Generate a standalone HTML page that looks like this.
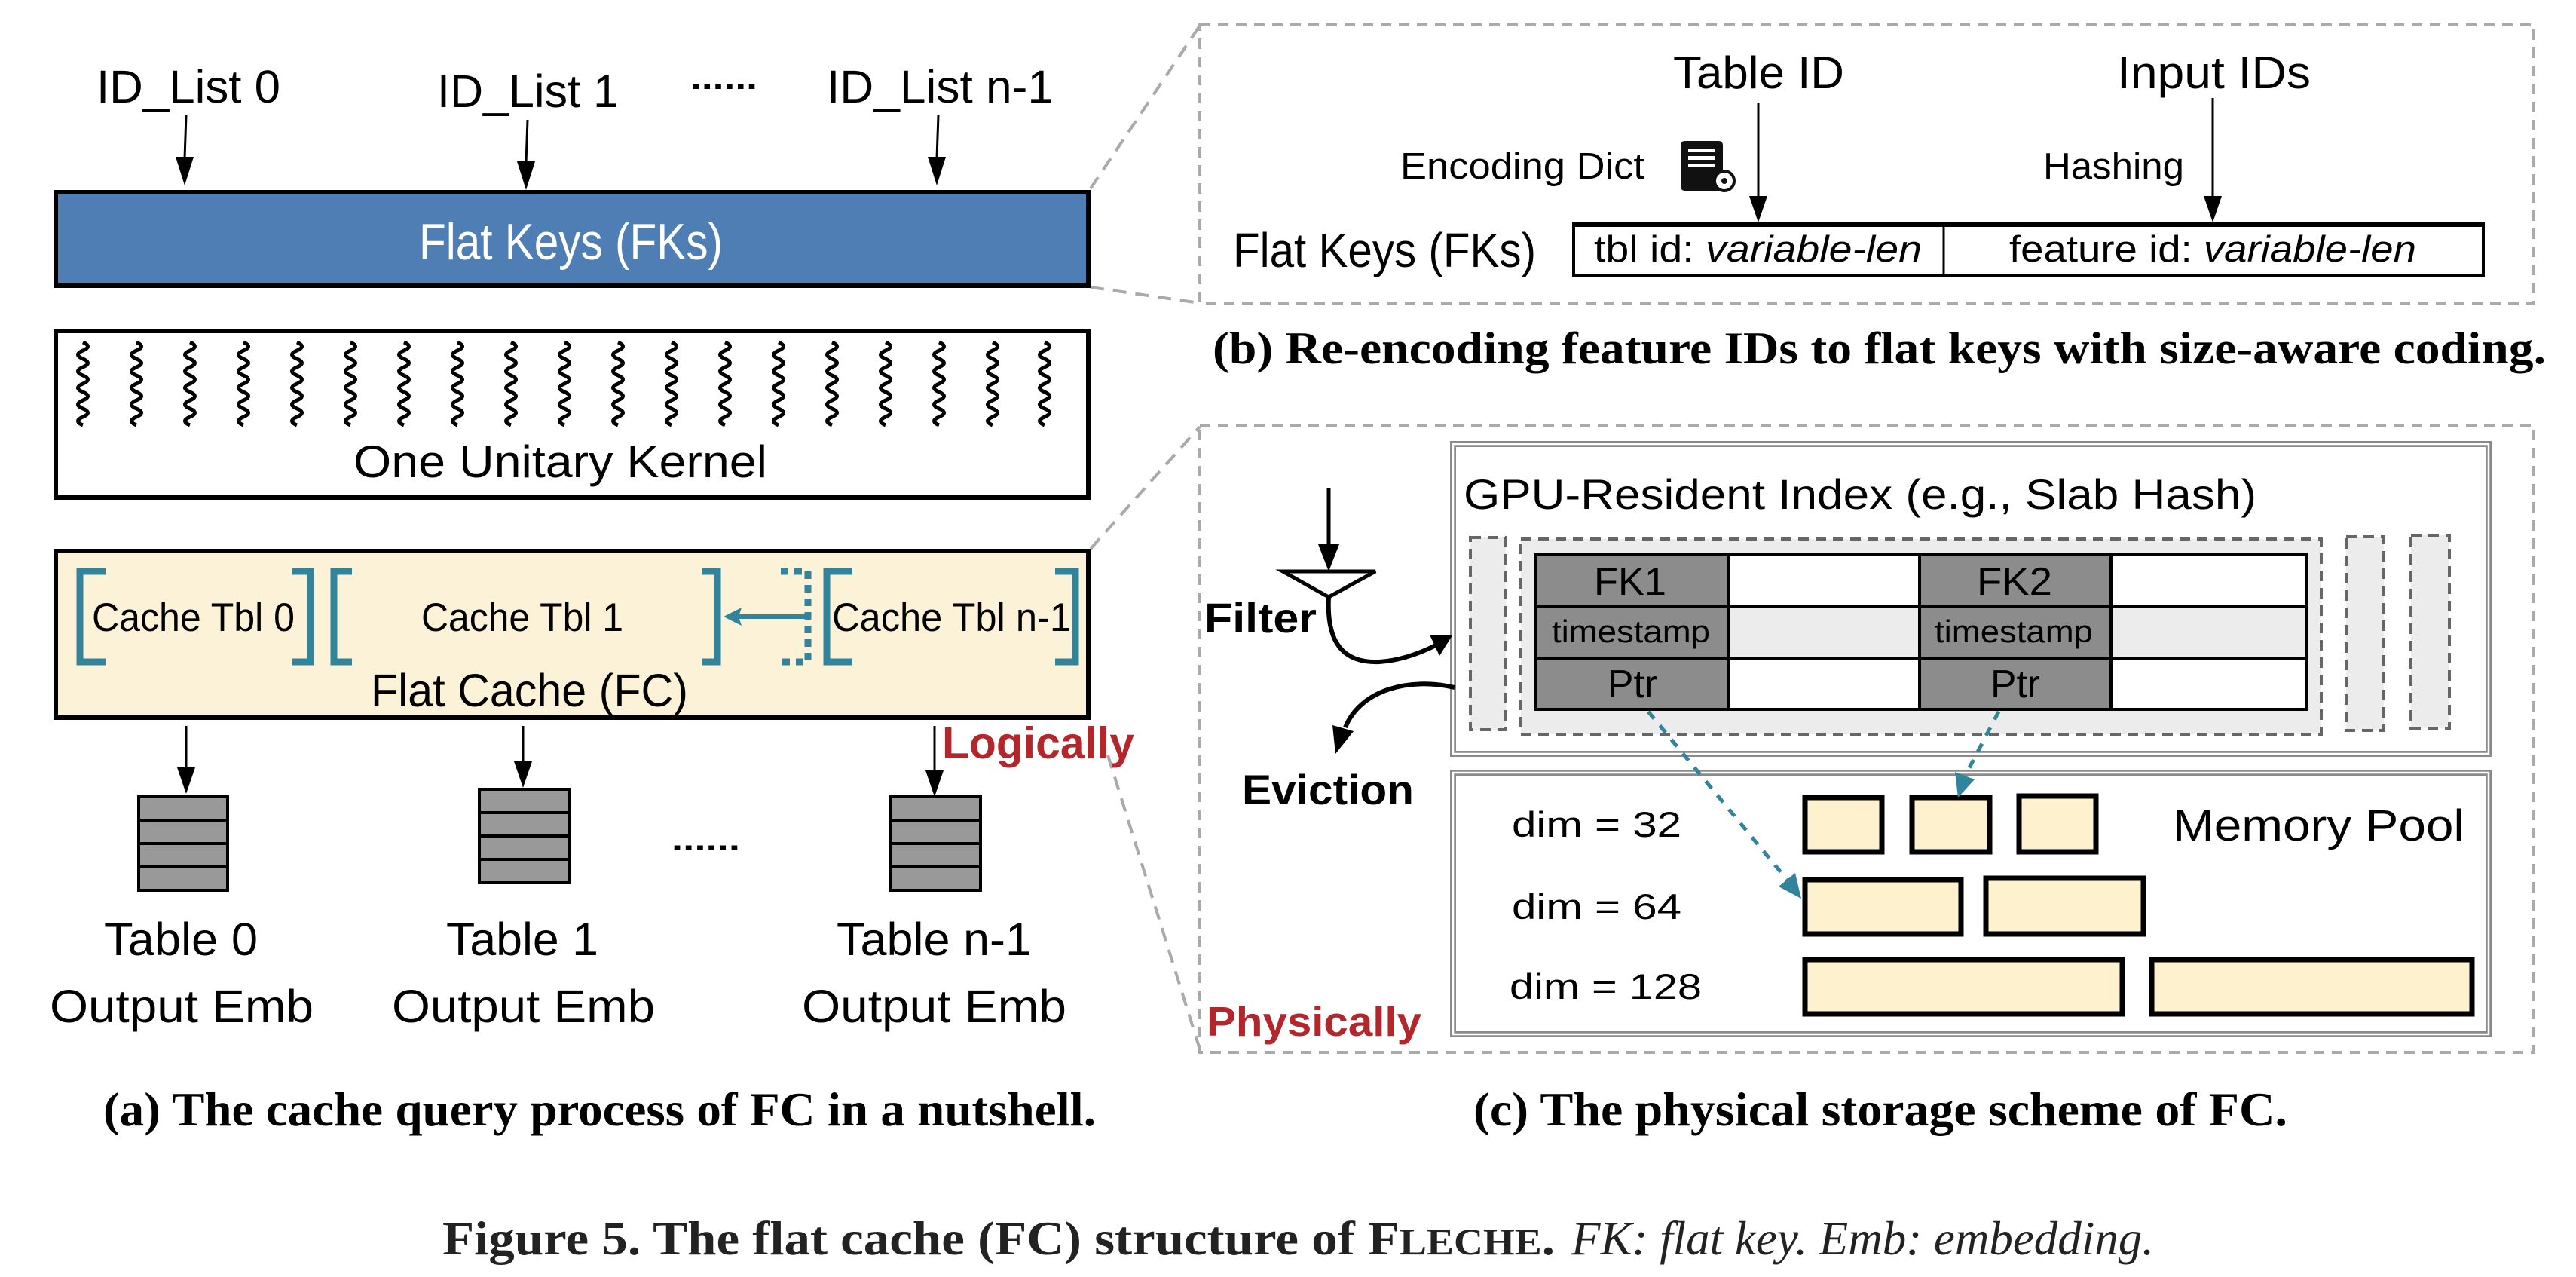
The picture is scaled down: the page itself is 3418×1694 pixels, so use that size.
<!DOCTYPE html>
<html><head><meta charset="utf-8"><style>
html,body{margin:0;padding:0;background:#fff}
svg{display:block}
text{font-family:"Liberation Sans",sans-serif;fill:#000}
.s{font-family:"Liberation Serif",serif;font-weight:bold}
</style></head><body>
<svg width="3418" height="1694" viewBox="0 0 3418 1694" xmlns="http://www.w3.org/2000/svg">

<!-- zoom dashed lines -->
<g stroke="#aaa" stroke-width="4" stroke-dasharray="18,12" fill="none">
<line x1="1447" y1="250" x2="1592" y2="34"/>
<line x1="1447" y1="381" x2="1592" y2="402"/>
<line x1="1447" y1="728" x2="1592" y2="566"/>
<line x1="1470" y1="1002" x2="1592" y2="1392"/>
</g>

<!-- Panel a -->
<text x="128" y="136" font-size="61" textLength="244" lengthAdjust="spacingAndGlyphs">ID_List 0</text>
<text x="580" y="142" font-size="61" textLength="241" lengthAdjust="spacingAndGlyphs">ID_List 1</text>
<text x="916" y="118" font-size="44" font-weight="bold" textLength="89" lengthAdjust="spacingAndGlyphs">......</text>
<text x="1097" y="136" font-size="61" textLength="301" lengthAdjust="spacingAndGlyphs">ID_List n-1</text>
<g stroke="#000" stroke-width="3">
<line x1="247" y1="153" x2="245" y2="210"/>
<line x1="700" y1="159" x2="698" y2="216"/>
<line x1="1245" y1="153" x2="1243" y2="210"/>
</g>
<path d="M233,208 L257,208 L245,246 z M686,214 L710,214 L698,252 z M1231,208 L1255,208 L1243,246 z"/>

<rect x="74" y="255" width="1370" height="124" fill="#4f7eb5" stroke="#000" stroke-width="6"/>
<text x="556" y="344" font-size="68" style="fill:#fff" textLength="403" lengthAdjust="spacingAndGlyphs">Flat Keys (FKs)</text>

<rect x="74" y="439" width="1370" height="221" fill="#fff" stroke="#000" stroke-width="6"/>
<g fill="none" stroke="#000" stroke-width="5">
<path id="sq" d="M110,454 q13,5.5 0,11 q-13,5.5 0,11 q13,5.5 0,11 q-13,5.5 0,11 q13,5.5 0,11 q-13,5.5 0,11 q13,5.5 0,11 q-13,5.5 0,11 q13,5.5 0,11 q-13,5.5 0,11"/>
<use href="#sq" x="71"/><use href="#sq" x="142"/><use href="#sq" x="213"/><use href="#sq" x="284"/><use href="#sq" x="355"/><use href="#sq" x="426"/><use href="#sq" x="497"/><use href="#sq" x="568"/><use href="#sq" x="639"/><use href="#sq" x="710"/><use href="#sq" x="781"/><use href="#sq" x="852"/><use href="#sq" x="923"/><use href="#sq" x="994"/><use href="#sq" x="1065"/><use href="#sq" x="1136"/><use href="#sq" x="1207"/><use href="#sq" x="1276"/>
</g>
<text x="469" y="633" font-size="60" textLength="549" lengthAdjust="spacingAndGlyphs">One Unitary Kernel</text>

<rect x="74" y="731" width="1370" height="221" fill="#fcf2d8" stroke="#000" stroke-width="6"/>
<g fill="none" stroke="#31849b" stroke-width="9">
<path d="M140,758 H106 V878 H140"/>
<path d="M388,758 H412 V878 H388"/>
<path d="M467,758 H443 V878 H467"/>
<path d="M932,758 H952 V878 H932"/>
<path d="M1036,758 H1072 V878 H1036" stroke-dasharray="10,8"/>
<path d="M1131,758 H1097 V878 H1131"/>
<path d="M1400,758 H1427 V878 H1400"/>
</g>
<line x1="1072" y1="818" x2="972" y2="818" stroke="#31849b" stroke-width="6"/>
<path d="M960,818 L984,806 L980,818 L984,830 z" fill="#31849b"/>
<text x="122" y="837" font-size="53" textLength="269" lengthAdjust="spacingAndGlyphs">Cache Tbl 0</text>
<text x="559" y="837" font-size="53" textLength="268" lengthAdjust="spacingAndGlyphs">Cache Tbl 1</text>
<text x="1104" y="837" font-size="53" textLength="317" lengthAdjust="spacingAndGlyphs">Cache Tbl n-1</text>
<text x="492" y="937" font-size="61" textLength="421" lengthAdjust="spacingAndGlyphs">Flat Cache (FC)</text>

<g stroke="#000" stroke-width="3">
<line x1="247" y1="963" x2="247" y2="1020"/>
<line x1="694" y1="963" x2="694" y2="1012"/>
<line x1="1240" y1="963" x2="1240" y2="1024"/>
</g>
<path d="M235,1018 L259,1018 L247,1053 z M682,1010 L706,1010 L694,1045 z M1228,1022 L1252,1022 L1240,1057 z"/>
<g fill="#999" stroke="#000" stroke-width="4">
<rect x="184" y="1057" width="118" height="31"/><rect x="184" y="1088" width="118" height="31"/><rect x="184" y="1119" width="118" height="31"/><rect x="184" y="1150" width="118" height="31"/>
<rect x="636" y="1047" width="120" height="31"/><rect x="636" y="1078" width="120" height="31"/><rect x="636" y="1109" width="120" height="31"/><rect x="636" y="1140" width="120" height="31"/>
<rect x="1182" y="1057" width="119" height="31"/><rect x="1182" y="1088" width="119" height="31"/><rect x="1182" y="1119" width="119" height="31"/><rect x="1182" y="1150" width="119" height="31"/>
</g>
<text x="891" y="1128" font-size="44" font-weight="bold" textLength="91" lengthAdjust="spacingAndGlyphs">......</text>
<text x="1250" y="1006" font-size="59" font-weight="bold" style="fill:#b3262c" textLength="255" lengthAdjust="spacingAndGlyphs">Logically</text>
<text x="138" y="1267" font-size="61" textLength="204" lengthAdjust="spacingAndGlyphs">Table 0</text>
<text x="66" y="1356" font-size="61" textLength="350" lengthAdjust="spacingAndGlyphs">Output Emb</text>
<text x="592" y="1267" font-size="61" textLength="202" lengthAdjust="spacingAndGlyphs">Table 1</text>
<text x="520" y="1356" font-size="61" textLength="349" lengthAdjust="spacingAndGlyphs">Output Emb</text>
<text x="1110" y="1267" font-size="61" textLength="259" lengthAdjust="spacingAndGlyphs">Table n-1</text>
<text x="1064" y="1356" font-size="61" textLength="351" lengthAdjust="spacingAndGlyphs">Output Emb</text>

<text class="s" x="137" y="1493" font-size="64" textLength="1317" lengthAdjust="spacingAndGlyphs">(a) The cache query process of FC in a nutshell.</text>

<!-- Panel b -->
<rect x="1592" y="33" width="1770" height="370" fill="none" stroke="#aaa" stroke-width="4" stroke-dasharray="14,10"/>
<text x="2220" y="117" font-size="60" textLength="227" lengthAdjust="spacingAndGlyphs">Table ID</text>
<text x="2809" y="117" font-size="60" textLength="257" lengthAdjust="spacingAndGlyphs">Input IDs</text>
<g stroke="#000" stroke-width="3">
<line x1="2333" y1="136" x2="2333" y2="262"/>
<line x1="2936" y1="130" x2="2936" y2="262"/>
</g>
<path d="M2321,260 L2345,260 L2333,295 z M2924,260 L2948,260 L2936,295 z"/>
<text x="1858" y="237" font-size="49" textLength="324" lengthAdjust="spacingAndGlyphs">Encoding Dict</text>
<text x="2711" y="237" font-size="49" textLength="187" lengthAdjust="spacingAndGlyphs">Hashing</text>
<g>
<rect x="2230" y="187" width="56" height="66" rx="5" fill="#111"/>
<rect x="2240" y="197" width="36" height="5" fill="#fff"/><rect x="2240" y="207" width="36" height="5" fill="#fff"/><rect x="2240" y="217" width="36" height="5" fill="#fff"/>
<circle cx="2288" cy="240" r="13" fill="#fff" stroke="#111" stroke-width="4"/>
<circle cx="2288" cy="240" r="4" fill="#111"/>
</g>
<text x="1636" y="354" font-size="64" textLength="402" lengthAdjust="spacingAndGlyphs">Flat Keys (FKs)</text>
<rect x="2088" y="296" width="1207" height="69" fill="#fff" stroke="#000" stroke-width="4"/>
<line x1="2088" y1="300" x2="3295" y2="300" stroke="#000" stroke-width="2"/>
<line x1="2579" y1="296" x2="2579" y2="365" stroke="#000" stroke-width="3"/>
<text x="2115" y="347" font-size="49" textLength="435" lengthAdjust="spacingAndGlyphs">tbl id: <tspan font-style="italic">variable-len</tspan></text>
<text x="2666" y="347" font-size="49" textLength="540" lengthAdjust="spacingAndGlyphs">feature id: <tspan font-style="italic">variable-len</tspan></text>
<text class="s" x="1609" y="482" font-size="60" textLength="1769" lengthAdjust="spacingAndGlyphs">(b)  Re-encoding feature IDs to flat keys with size-aware coding.</text>

<!-- Panel c -->
<rect x="1592" y="564" width="1770" height="832" fill="none" stroke="#aaa" stroke-width="4" stroke-dasharray="14,10"/>
<rect x="1928" y="589" width="1374" height="411" fill="#fff" stroke="#8a8a8a" stroke-width="8"/>
<rect x="1928" y="589" width="1374" height="411" fill="none" stroke="#fff" stroke-width="2.5"/>
<text x="1942" y="675" font-size="56" textLength="1052" lengthAdjust="spacingAndGlyphs">GPU-Resident Index (e.g., Slab Hash)</text>
<g fill="#ececec" stroke="#666" stroke-width="4" stroke-dasharray="14,9">
<rect x="1951" y="713" width="47" height="255"/>
<rect x="2018" y="715" width="1062" height="259"/>
<rect x="3113" y="712" width="50" height="257"/>
<rect x="3199" y="710" width="51" height="256"/>
</g>
<g stroke="#000" stroke-width="4">
<rect x="2038" y="735" width="255" height="70" fill="#8c8c8c"/>
<rect x="2293" y="735" width="254" height="70" fill="#fff"/>
<rect x="2547" y="735" width="254" height="70" fill="#8c8c8c"/>
<rect x="2801" y="735" width="259" height="70" fill="#fff"/>
<rect x="2038" y="805" width="255" height="68" fill="#8c8c8c"/>
<rect x="2293" y="805" width="254" height="68" fill="#ececec"/>
<rect x="2547" y="805" width="254" height="68" fill="#8c8c8c"/>
<rect x="2801" y="805" width="259" height="68" fill="#ececec"/>
<rect x="2038" y="873" width="255" height="68" fill="#8c8c8c"/>
<rect x="2293" y="873" width="254" height="68" fill="#fff"/>
<rect x="2547" y="873" width="254" height="68" fill="#8c8c8c"/>
<rect x="2801" y="873" width="259" height="68" fill="#fff"/>
</g>
<text x="2115" y="789" font-size="52" textLength="96" lengthAdjust="spacingAndGlyphs">FK1</text>
<text x="2623" y="789" font-size="52" textLength="100" lengthAdjust="spacingAndGlyphs">FK2</text>
<text x="2059" y="852" font-size="42" textLength="210" lengthAdjust="spacingAndGlyphs">timestamp</text>
<text x="2567" y="852" font-size="42" textLength="210" lengthAdjust="spacingAndGlyphs">timestamp</text>
<text x="2133" y="925" font-size="52" textLength="66" lengthAdjust="spacingAndGlyphs">Ptr</text>
<text x="2641" y="925" font-size="52" textLength="66" lengthAdjust="spacingAndGlyphs">Ptr</text>

<!-- filter / eviction -->
<line x1="1763" y1="648" x2="1763" y2="725" stroke="#000" stroke-width="5"/>
<path d="M1749,722 L1777,722 L1763,758 z"/>
<path d="M1702,758 L1825,758 L1763,792 z" fill="#fff" stroke="#000" stroke-width="5" stroke-linejoin="miter"/>
<path d="M1763,792 C1760,850 1780,880 1830,878 C1860,876 1885,866 1905,856" fill="none" stroke="#000" stroke-width="6"/>
<path d="M1927,843 L1897,842 L1910,870 z"/>
<path d="M1930,912 C1870,898 1805,915 1785,965" fill="none" stroke="#000" stroke-width="6"/>
<path d="M1772,1000 L1768,962 L1796,970 z"/>
<text x="1598" y="839" font-size="56" font-weight="bold" textLength="149" lengthAdjust="spacingAndGlyphs">Filter</text>
<text x="1648" y="1067" font-size="56" font-weight="bold" textLength="228" lengthAdjust="spacingAndGlyphs">Eviction</text>

<rect x="1928" y="1025" width="1374" height="347" fill="#fff" stroke="#8a8a8a" stroke-width="8"/>
<rect x="1928" y="1025" width="1374" height="347" fill="none" stroke="#fff" stroke-width="2.5"/>
<text x="2006" y="1110" font-size="47" textLength="225" lengthAdjust="spacingAndGlyphs">dim = 32</text>
<text x="2006" y="1219" font-size="47" textLength="225" lengthAdjust="spacingAndGlyphs">dim = 64</text>
<text x="2003" y="1325" font-size="47" textLength="255" lengthAdjust="spacingAndGlyphs">dim = 128</text>
<text x="2883" y="1115" font-size="58" textLength="387" lengthAdjust="spacingAndGlyphs">Memory Pool</text>
<g fill="#fdf1ce" stroke="#000" stroke-width="7">
<rect x="2395" y="1058" width="102" height="72"/>
<rect x="2537" y="1058" width="103" height="72"/>
<rect x="2679" y="1056" width="102" height="74"/>
<rect x="2395" y="1167" width="207" height="72"/>
<rect x="2635" y="1165" width="209" height="74"/>
<rect x="2395" y="1273" width="421" height="72"/>
<rect x="2855" y="1273" width="425" height="72"/>
</g>
<text x="1601" y="1374" font-size="55" font-weight="bold" style="fill:#b3262c" textLength="285" lengthAdjust="spacingAndGlyphs">Physically</text>

<g stroke="#31849b" stroke-width="5" stroke-dasharray="12,12" fill="none">
<path d="M2187,944 L2372,1168"/>
<path d="M2652,944 L2607,1030"/>
</g>
<path d="M2390,1192 L2360,1176 L2382,1158 z" fill="#31849b"/>
<path d="M2598,1058 L2594,1024 L2620,1034 z" fill="#31849b"/>

<text class="s" x="1955" y="1493" font-size="64" textLength="1080" lengthAdjust="spacingAndGlyphs">(c)  The physical storage scheme of FC.</text>

<!-- figure caption -->
<text class="s" x="587" y="1664" font-size="64" style="fill:#222" textLength="1476" lengthAdjust="spacingAndGlyphs">Figure 5. The flat cache (FC) structure of F<tspan font-size="50">LECHE</tspan>.</text>
<text x="2085" y="1664" font-size="64" style="font-family:'Liberation Serif',serif;font-style:italic;fill:#222" textLength="773" lengthAdjust="spacingAndGlyphs">FK: flat key. Emb: embedding.</text>
</svg>
</body></html>
